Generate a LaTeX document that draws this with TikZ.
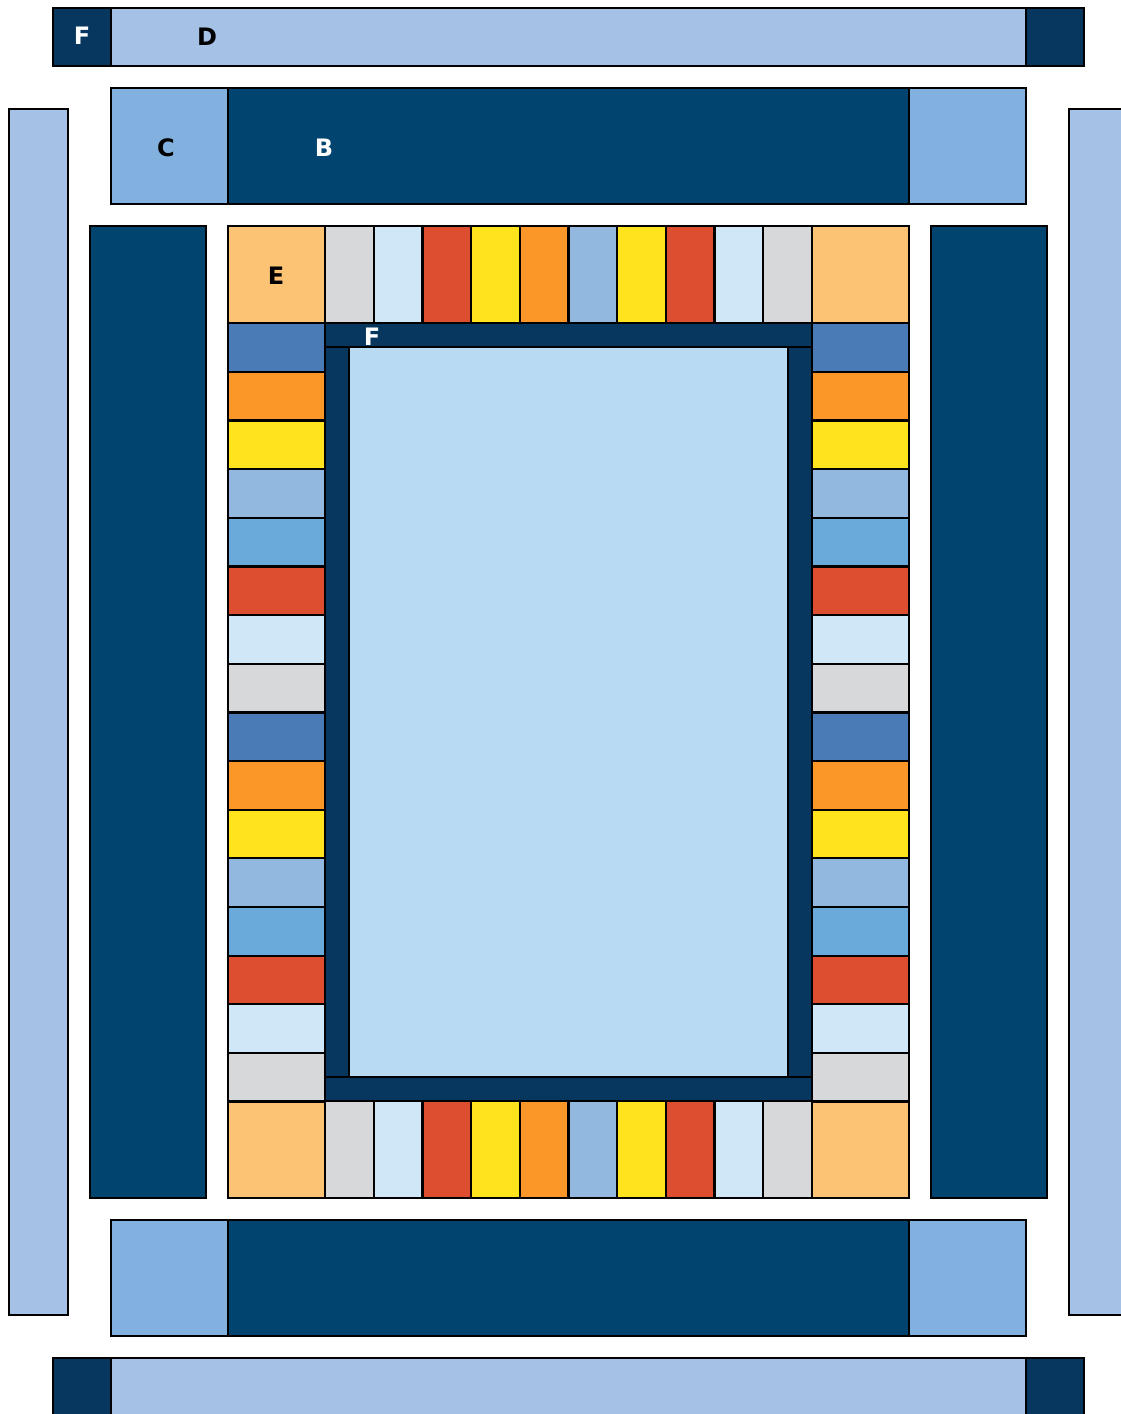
\documentclass[tikz,border=0pt]{standalone}
\usepackage{fontspec}
\setmainfont{DejaVu Sans}
\definecolor{navyColor}{HTML}{00446F}
\definecolor{frameColor}{HTML}{07375F}
\definecolor{paleBlue}{HTML}{A5C1E5}
\definecolor{cornerBlue}{HTML}{82B0DF}
\definecolor{cornerE}{HTML}{FBC373}
\definecolor{cGrey}{HTML}{D7D8DA}
\definecolor{cPale}{HTML}{CFE7F6}
\definecolor{cRed}{HTML}{DD4D30}
\definecolor{cYellow}{HTML}{FFE41D}
\definecolor{cOrange}{HTML}{FB9628}
\definecolor{cMed}{HTML}{92B8E0}
\definecolor{cSky}{HTML}{6AAADB}
\definecolor{cBlue}{HTML}{4A7BB6}
\definecolor{innerColor}{HTML}{B8DBF3}
\begin{document}
\begin{tikzpicture}[x=0.5pt,y=-0.5pt,
 cell/.style={draw=black,line width=1.1pt},
 lbl/.style={font=\fontsize{12}{14}\selectfont\bfseries,inner sep=0pt}]
\useasboundingbox (0,0) rectangle (1120,1414);
\def\cw{48.643}
% outer bars
\draw[cell,fill=paleBlue] (9,109) rectangle (68,1315);
\draw[cell,fill=paleBlue] (1069,109) rectangle (1128,1315);
\draw[cell,fill=frameColor] (53,8) rectangle (111,66);
\draw[cell,fill=paleBlue] (111,8) rectangle (1026,66);
\draw[cell,fill=frameColor] (1026,8) rectangle (1084,66);
\draw[cell,fill=frameColor] (53,1358) rectangle (111,1416);
\draw[cell,fill=paleBlue] (111,1358) rectangle (1026,1416);
\draw[cell,fill=frameColor] (1026,1358) rectangle (1084,1416);
% B bands
\foreach \ya/\yb in {88/204,1220/1336} {
 \draw[cell,fill=cornerBlue] (111,\ya) rectangle (228,\yb);
 \draw[cell,fill=navyColor] (228,\ya) rectangle (909,\yb);
 \draw[cell,fill=cornerBlue] (909,\ya) rectangle (1026,\yb);
}
\draw[cell,fill=navyColor] (90,226) rectangle (206,1198);
\draw[cell,fill=navyColor] (931,226) rectangle (1047,1198);
% corner squares
\foreach \xa/\ya in {228/226,{909-2*\cw}/226,228/{1198-2*\cw},{909-2*\cw}/{1198-2*\cw}}
 \draw[cell,fill=cornerE] (\xa,\ya) rectangle ++({2*\cw},{2*\cw});
% top and bottom rows
\foreach \c [count=\i from 0] in {cGrey,cPale,cRed,cYellow,cOrange,cMed,cYellow,cRed,cPale,cGrey} {
 \draw[cell,fill=\c] ({228+(\i+2)*\cw},226) rectangle ({228+(\i+3)*\cw},{226+2*\cw});
 \draw[cell,fill=\c] ({228+(\i+2)*\cw},{1198-2*\cw}) rectangle ({228+(\i+3)*\cw},1198);
}
% side columns
\foreach \c [count=\i from 0] in {cBlue,cOrange,cYellow,cMed,cSky,cRed,cPale,cGrey,cBlue,cOrange,cYellow,cMed,cSky,cRed,cPale,cGrey} {
 \draw[cell,fill=\c] (228,{226+(\i+2)*\cw}) rectangle ({228+2*\cw},{226+(\i+3)*\cw});
 \draw[cell,fill=\c] ({909-2*\cw},{226+(\i+2)*\cw}) rectangle (909,{226+(\i+3)*\cw});
}
% inner frame: top/bottom bands, side strips
\draw[cell,fill=frameColor] ({228+2*\cw},{226+2*\cw}) rectangle ({909-2*\cw},{226+2*\cw+24});
\draw[cell,fill=frameColor] ({228+2*\cw},{1198-2*\cw-24}) rectangle ({909-2*\cw},{1198-2*\cw});
\draw[cell,fill=frameColor] ({228+2*\cw},{226+2*\cw+24}) rectangle ({228+2*\cw+24},{1198-2*\cw-24});
\draw[cell,fill=frameColor] ({909-2*\cw-24},{226+2*\cw+24}) rectangle ({909-2*\cw},{1198-2*\cw-24});
\draw[cell,fill=innerColor] ({228+2*\cw+24},{226+2*\cw+24}) rectangle ({909-2*\cw-24},{1198-2*\cw-24});
% labels
\node[lbl,text=white] (labF) at (82,36) {F};
\node[lbl] (labD) at (207,37) {D};
\node[lbl] (labC) at (166,148) {C};
\node[lbl,text=white] (labB) at (324,148) {B};
\node[lbl] (labE) at (276,276) {E};
\node[lbl,text=white] (labFin) at (372,337) {F};
\end{tikzpicture}
\end{document}
